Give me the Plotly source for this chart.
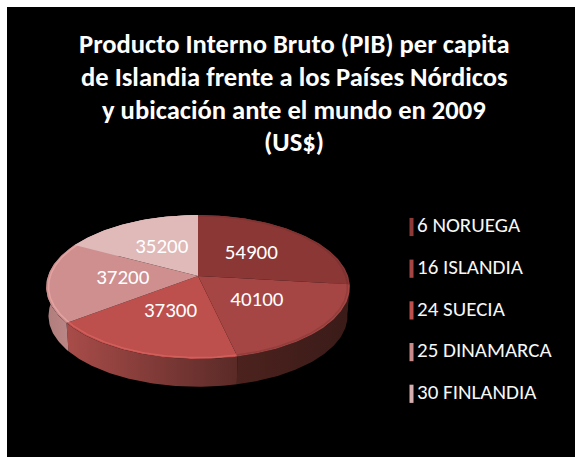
import math
import plotly.graph_objects as go

# ---- data ----
countries = ["6 NORUEGA", "16 ISLANDIA", "24 SUECIA", "25 DINAMARCA", "30 FINLANDIA"]
gdp = [54900, 40100, 37300, 37200, 35200]
title_lines = [
    "Producto Interno Bruto (PIB) per capita",
    "de Islandia frente a los Países Nórdicos",
    "y ubicación ante el mundo en 2009",
    "(US$)",
]

# ---- style ----
top_colors = ["#8a3736", "#a54644", "#bd4f4d", "#cf8f8f", "#e0b9b9"]
rim_colors = ["#7c3230", "#8f3d3b", "#d9635f", "#e8a8a6", "#e0b9b9"]
wall_grad = [("#3a1b18", "#3a1b18"), ("#4c221e", "#3a1b18"), ("#a84c49", "#5a2a27"),
             ("#b07c7c", "#bd8a8a"), ("#c09a9a", "#c09a9a")]
swatch_colors = ["#8e3a38", "#a54644", "#bd4f4d", "#c98a8a", "#d6aeae"]
FONT = "Carlito, Calibri, Lato, sans-serif"

# ---- pie geometry (perspective-projected disc) ----
CX, CY, A, B, K = 198, 276, 150, 70.3, 0.153
DROP, SHRINK = 29, 0.985


def project(theta, rho=1.0, drop=0.0, scale=1.0):
    u, v = rho * math.sin(theta), rho * math.cos(theta)
    d = 1 + K * v
    return CX + scale * A * u / d, CY + drop - scale * B * v / d


total = sum(gdp)
edges = [0.0]
for g in gdp:
    edges.append(edges[-1] + 2 * math.pi * g / total)


def arc(a0, a1, **kw):
    n = max(8, int((a1 - a0) * 60))
    pts = [project(a0 + (a1 - a0) * i / n, **kw) for i in range(n + 1)]
    return [p[0] for p in pts], [p[1] for p in pts]


fig = go.Figure()

# side wall
for i in range(len(gdp)):
    x0, y0 = arc(edges[i], edges[i + 1])
    x1, y1 = arc(edges[i], edges[i + 1], drop=DROP, scale=SHRINK)
    left, right = wall_grad[i]
    fig.add_trace(go.Scatter(
        x=x0 + x1[::-1], y=y0 + y1[::-1], mode="lines", fill="toself",
        line=dict(width=0),
        fillgradient=dict(type="horizontal", colorscale=[[0, left], [1, right]]),
        hoverinfo="skip", showlegend=False))

# top faces
for i, name in enumerate(countries):
    xs, ys = arc(edges[i], edges[i + 1])
    fig.add_trace(go.Scatter(
        x=[CX] + xs + [CX], y=[CY] + ys + [CY], mode="lines", fill="toself",
        fillcolor=top_colors[i], line=dict(width=0, color=top_colors[i]),
        name=name, hoverinfo="name", showlegend=False))

# bevel highlight on the rim
for i in range(len(gdp)):
    xs, ys = arc(edges[i], edges[i + 1], rho=0.985)
    fig.add_trace(go.Scatter(
        x=xs, y=ys, mode="lines", line=dict(width=1.5, color=rim_colors[i]),
        opacity=0.8, hoverinfo="skip", showlegend=False))

# value labels
mids = [(edges[i] + edges[i + 1]) / 2 for i in range(len(gdp))]
label_pts = [project(m, rho=0.5) for m in mids]
fig.add_trace(go.Scatter(
    x=[p[0] for p in label_pts], y=[p[1] for p in label_pts], mode="text",
    text=[str(g) for g in gdp], textposition="middle center",
    textfont=dict(family=FONT, size=21, color="white"),
    hoverinfo="skip", showlegend=False))

# legend column
LEG_Y = [227 + 41.7 * i for i in range(len(countries))]
fig.add_trace(go.Scatter(
    x=[411.5] * len(countries), y=LEG_Y, mode="markers",
    marker=dict(symbol="line-ns", size=13, color=swatch_colors,
                line=dict(width=4, color=swatch_colors)),
    hoverinfo="skip", showlegend=False))
fig.add_trace(go.Scatter(
    x=[417] * len(countries), y=LEG_Y, mode="text", text=countries,
    textposition="middle right",
    textfont=dict(family=FONT, size=21, color="#f7f7f7"),
    hoverinfo="skip", showlegend=False))

# title, one annotation per line to hold the tighter line spacing
for i, line in enumerate(title_lines):
    fig.add_annotation(
        x=294, y=44 + 32.8 * i, xref="x", yref="y", text=line, showarrow=False,
        xanchor="center", yanchor="middle",
        font=dict(family=FONT, size=26.6, color="white", weight="bold"))

fig.update_layout(
    width=568, height=450,
    margin=dict(l=0, r=0, t=0, b=0),
    paper_bgcolor="black", plot_bgcolor="black",
    xaxis=dict(range=[7, 575], visible=False, fixedrange=True),
    yaxis=dict(range=[457, 7], visible=False, fixedrange=True),
)
fig.write_html("out.html", post_script="document.body.style.margin='7px 0 0 7px';")
